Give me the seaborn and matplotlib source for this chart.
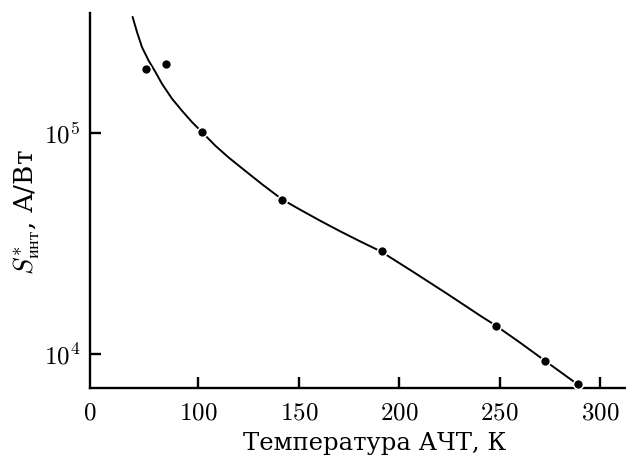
import matplotlib
matplotlib.use("Agg")
import matplotlib.pyplot as plt
import seaborn as sns
import pandas as pd

# measured points
pts_T = [73.9, 83.9, 101.8, 141.7, 191.3, 248.1, 272.6, 288.9]
pts_S = [1.95e5, 2.06e5, 1.01e5, 5.0e4, 2.92e4, 1.345e4, 9.32e3, 7.28e3]

# drawn curve
curve_T = [67.2, 69.4, 71.9, 75.2, 78.6, 81.9, 86.9, 91.9, 96.9, 101.8,
           108.5, 115.1, 123.4, 131.8, 141.7, 150.9, 160.8, 170.8, 180.8,
           190.8, 207.4, 224.0, 240.6, 248.1, 260.6, 272.6, 288.9]
curve_S = [3.36e5, 2.87e5, 2.45e5, 2.13e5, 1.89e5, 1.67e5, 1.43e5, 1.26e5,
           1.12e5, 1.01e5, 8.76e4, 7.75e4, 6.74e4, 5.86e4, 5.01e4, 4.49e4,
           4.005e4, 3.586e4, 3.227e4, 2.916e4, 2.34e4, 1.87e4, 1.486e4,
           1.345e4, 1.119e4, 9.32e3, 7.28e3]

x_ticks = [100, 150, 200, 250, 300]
x_tick_labels = [r"$100$", r"$150$", r"$200$", r"$250$", r"$300$"]
y_ticks = [1e4, 1e5]
y_tick_labels = [r"$10^4$", r"$10^5$"]
origin_label = r"$0$"

xlabel = "Температура АЧТ, К"
ylabel = r"$S^{*}_{\mathrm{инт}}$, А/Вт"

sns.set_theme(style="ticks")
plt.rcParams["font.family"] = ["DejaVu Serif"]
plt.rcParams["mathtext.fontset"] = "cm"

fig = plt.figure(figsize=(6.26, 4.58), dpi=100)
ax = fig.add_axes([0.1438, 0.1528, 0.8562, 0.8188])

curve = pd.DataFrame({"T": curve_T, "S": curve_S})
pts = pd.DataFrame({"T": pts_T, "S": pts_S})

sns.lineplot(data=curve, x="T", y="S", sort=False, estimator=None,
             color="black", linewidth=1.4, ax=ax)
sns.scatterplot(data=pts, x="T", y="S", color="black", s=50,
                edgecolor="white", linewidth=1.1, zorder=3, ax=ax,
                clip_on=False)

ax.set_yscale("log")
xmin, xmax = 46, 313
ax.set_xlim(xmin, xmax)
ax.set_ylim(7.01e3, 3.5e5)

tick_fs = 18
ax.set_xticks([xmin] + x_ticks)
ax.set_xticklabels([origin_label] + x_tick_labels, fontsize=tick_fs)
ax.xaxis.get_major_ticks()[0].tick1line.set_visible(False)
ax.set_yticks(y_ticks)
ax.set_yticklabels(y_tick_labels, fontsize=tick_fs)
ax.minorticks_off()

for s in ["top", "right"]:
    ax.spines[s].set_visible(False)
for s in ["left", "bottom"]:
    ax.spines[s].set_linewidth(1.7)
    ax.spines[s].set_color("black")

ax.tick_params(axis="both", direction="in", length=8, width=1.7,
               colors="black", pad=10)
ax.tick_params(axis="y", pad=7)

ax.set_xlabel(xlabel, fontsize=17.5, color="black")
ax.set_ylabel(ylabel, fontsize=19, color="black")
ax.xaxis.set_label_coords(0.53, -0.118)
ax.yaxis.set_label_coords(-0.09, 0.47)

fig.savefig("out.png", dpi=100)
